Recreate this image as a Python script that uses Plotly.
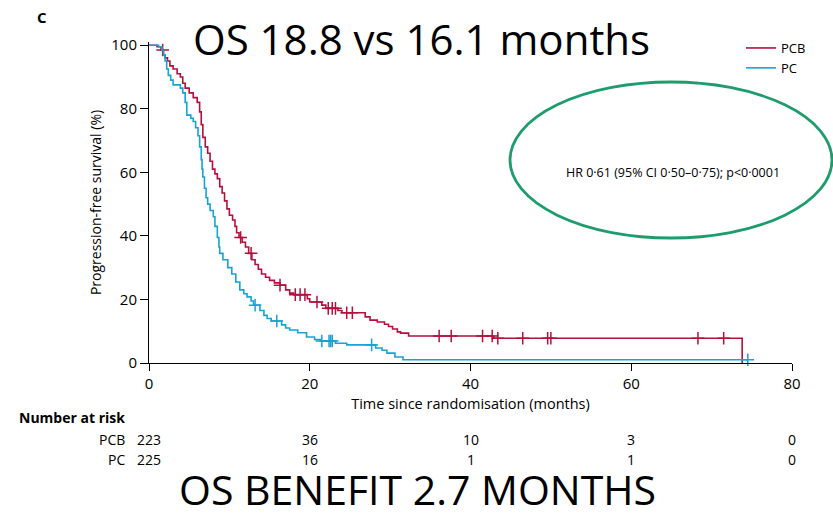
import plotly.graph_objects as go

# ---------------- data ----------------
pcb_t = [0, 1.0, 1.5, 1.8, 2.0, 2.3, 2.6, 3.0, 3.5, 3.9, 4.2, 4.5, 5.0, 5.5, 6.0, 6.3, 6.5, 6.7,
         7.0, 7.3, 7.6, 7.9, 8.2, 8.5, 8.8, 9.1, 9.4, 9.7, 10.0, 10.4, 10.7, 10.9, 11.2, 11.6,
         12.0, 12.4, 12.8, 13.2, 13.6, 14.0, 14.5, 15.0, 15.6, 16.3, 17.0, 17.5, 18.0, 19.7,
         20.0, 21.5, 22.0, 23.5, 24.0, 26.9, 27.5, 28.4, 29.3, 29.8, 30.3, 30.9, 31.3, 32.3,
         42.9, 73.8]
pcb_s = [100, 99.5, 98.5, 97, 96, 95, 93.5, 92.5, 91, 90, 88, 86.5, 85, 83.5, 82, 79, 75, 71,
         68, 66, 63.5, 61, 59.5, 58, 55.5, 53.5, 51, 48.5, 46.5, 45, 43, 41, 39.5, 38,
         36.5, 34.5, 32.5, 31, 29.5, 28, 27, 26, 25.2, 24.5, 23, 22, 21.5, 20.2,
         19.2, 18.2, 17.2, 16.5, 15.8, 14.5, 13.5, 12.9, 12.2, 11.5, 10.7, 9.8, 9.4, 8.5,
         7.8, 0]
pcb_cens = [1.7, 11.4, 12.7, 16.3, 18.2, 18.8, 19.4, 20.9, 22.3, 22.8, 23.2, 24.6, 25.3,
            36.1, 37.6, 41.5, 42.7, 43.4, 46.5, 49.6, 50.0, 68.3, 71.5]

pc_t = [0, 1.2, 1.6, 1.8, 2.0, 2.2, 2.4, 2.7, 3.0, 3.9, 4.2, 4.5, 4.7, 5.2, 5.5, 5.8, 6.1, 6.3,
        6.5, 6.6, 6.7, 6.9, 7.1, 7.3, 7.6, 8.0, 8.2, 8.5, 8.7, 8.8, 9.2, 9.8, 10.3, 10.8, 11.3,
        11.8, 12.2, 12.7, 13.0, 13.8, 14.3, 14.7, 15.2, 16.5, 17.0, 17.5, 18.5, 19.6, 20.6,
        21.3, 23.2, 24.6, 28.2, 29.0, 29.6, 30.6, 31.6, 74.5]
pc_s = [100, 99.5, 98.5, 97, 95, 92.5, 90.5, 89, 87.5, 86.5, 85, 82, 78, 77, 76, 74, 71.5, 68,
        64, 61, 58.5, 55, 52, 50, 48, 46, 43, 39.5, 36.5, 34.5, 32.5, 30, 28, 25.5, 23,
        21.8, 20.8, 19.5, 18.2, 16.5, 15, 14, 13.2, 12, 11, 10.4, 9.5, 8.2, 7.4,
        6.9, 6.2, 5.7, 4.7, 4.0, 3.1, 1.9, 1.0, 1.0]
pc_cens = [13.2, 15.9, 21.5, 22.4, 22.6, 22.8, 27.7, 74.5]

risk_times = [0, 20, 40, 60, 80]
risk_pcb = ["223", "36", "10", "3", "0"]
risk_pc = ["225", "16", "1", "1", "0"]

RED = "#b3113d"
BLUE = "#18a3d2"
GREEN = "#1f9c6c"
FONT = "Open Sans"


def step_value(ts, ss, t):
    v = ss[0]
    for ti, si in zip(ts, ss):
        if ti <= t:
            v = si
        else:
            break
    return v


fig = go.Figure()
for name, ts, ss, cens, col in [("PCB", pcb_t, pcb_s, pcb_cens, RED),
                                 ("PC", pc_t, pc_s, pc_cens, BLUE)]:
    fig.add_trace(go.Scatter(x=ts, y=ss, mode="lines", name=name,
                             line=dict(color=col, width=1.6, shape="hv")))
    fig.add_trace(go.Scatter(x=cens, y=[step_value(ts, ss, c) for c in cens], mode="markers",
                             showlegend=False, cliponaxis=False,
                             marker=dict(symbol="cross-thin", size=9, color=col,
                                         line=dict(color=col, width=1.5))))

L, R, T, B = 149, 41, 42, 156
W, H = 833, 519
pw = W - L - R
ph = H - T - B


def py(px):  # pixel y -> paper y
    return (H - B - px) / ph


def px_(x):  # pixel x -> paper x
    return (x - L) / pw


def txt(text, x, y, size, xanchor="center", xref="paper", yanchor="middle"):
    return dict(text=text, x=x, y=py(y), xref=xref, yref="paper", xanchor=xanchor,
                yanchor=yanchor, showarrow=False,
                font=dict(family=FONT, size=size, color="black"))


ann = [
    txt("OS 18.8 vs 16.1 months", px_(421), 38, 42),
    txt("OS BENEFIT 2.7 MONTHS", px_(417), 519, 41, yanchor="bottom"),
    txt("<b>C</b>", px_(35), 17, 15, xanchor="left"),
    txt("HR 0·61 (95% CI 0·50–0·75); p<0·0001", px_(673), 172, 12.5),
    txt("<b>Number at risk</b>", px_(17), 418, 14, xanchor="left"),
]
for lab, vals, yy in [("PCB", risk_pcb, 439), ("PC", risk_pc, 459)]:
    ann.append(txt(lab, px_(127), yy, 14, xanchor="right"))
    for t, v in zip(risk_times, vals):
        ann.append(txt(v, t, yy, 14, xref="x"))

fig.update_layout(
    width=W, height=H, margin=dict(l=L, r=R, t=T, b=B),
    paper_bgcolor="white", plot_bgcolor="white",
    font=dict(family=FONT, size=14, color="black"),
    annotations=ann,
    shapes=[dict(type="circle", xref="paper", yref="paper",
                 x0=px_(510), x1=px_(832), y0=py(238), y1=py(82),
                 line=dict(color=GREEN, width=2.8))],
    legend=dict(x=px_(741), y=py(33), xanchor="left", yanchor="top", bgcolor="rgba(0,0,0,0)",
                font=dict(family=FONT, size=13), itemwidth=30, tracegroupgap=0),
    xaxis=dict(range=[0, 80], tickvals=[0, 20, 40, 60, 80], showline=True, linecolor="black",
               linewidth=1, ticks="outside", ticklen=7, tickcolor="black", showgrid=False,
               zeroline=False, tickfont=dict(size=15),
               title=dict(text="Time since randomisation (months)", font=dict(size=14.5),
                          standoff=6)),
    yaxis=dict(range=[0, 101], tickvals=[0, 20, 40, 60, 80, 100], showline=True, linecolor="black",
               linewidth=1, ticks="outside", ticklen=8, tickcolor="black", showgrid=False,
               zeroline=False, tickfont=dict(size=15),
               title=dict(text="Progression-free survival (%)", font=dict(size=14), standoff=6)),
)

fig.write_html("out.html")
